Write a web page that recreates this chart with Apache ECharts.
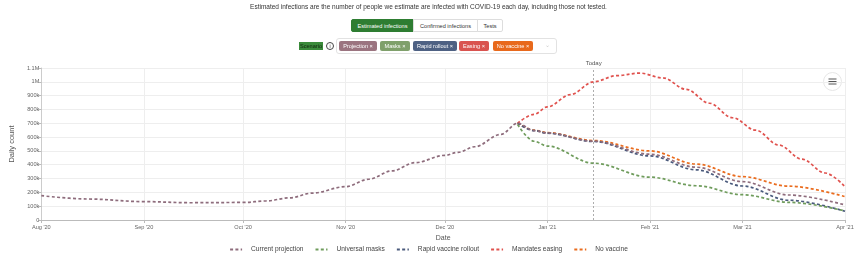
<!DOCTYPE html>
<html>
<head>
<meta charset="utf-8">
<script src="https://cdn.jsdelivr.net/npm/echarts@6/dist/echarts.min.js"></script>
<style>
  html,body{margin:0;padding:0;background:#fff;}
  body{width:857px;height:256px;position:relative;overflow:hidden;font-family:"Liberation Sans",Arial,sans-serif;}
  #chart{position:absolute;left:0;top:0;width:857px;height:256px;}
  .abs{position:absolute;white-space:nowrap;}
  #title{left:0;top:3px;width:857px;text-align:center;font-size:6.5px;color:#333;}
  .btn{top:19px;height:13px;line-height:13px;font-size:5.6px;text-align:center;box-sizing:border-box;border:1px solid #ddd;color:#333;background:#fff;}
  .tag{top:41px;height:10px;line-height:10px;font-size:5.6px;color:#fff;text-align:center;border-radius:2px;}
</style>
</head>
<body>
<div id="chart"></div>
<div id="title" class="abs">Estimated infections are the number of people we estimate are infected with COVID-19 each day, including those not tested.</div>
<div class="abs btn" style="left:351px;width:63px;background:#2e7d32;border-color:#2e7d32;color:#fff;border-radius:2px 0 0 2px;">Estimated infections</div>
<div class="abs btn" style="left:413px;width:65px;">Confirmed infections</div>
<div class="abs btn" style="left:477px;width:26px;border-radius:0 2px 2px 0;">Tests</div>
<div class="abs" style="left:299px;top:42px;width:24px;height:8px;line-height:8px;font-size:5.6px;background:#3a8a3a;color:#10240f;text-align:center;overflow:hidden;">Scenario</div>
<div class="abs" style="left:326px;top:42px;width:6px;height:6px;line-height:6px;border:0.8px solid #444;border-radius:50%;font-size:5px;text-align:center;color:#333;">i</div>
<div class="abs" style="left:336px;top:38px;width:221px;height:16px;box-sizing:border-box;border:1px solid #e2e2e2;border-radius:3px;"></div>
<div class="abs tag" style="left:339px;width:38px;background:#9b7480;">Projection ×</div>
<div class="abs tag" style="left:380px;width:30px;background:#7fa06b;">Masks ×</div>
<div class="abs tag" style="left:413px;width:44px;background:#4e6183;">Rapid rollout ×</div>
<div class="abs tag" style="left:459px;width:30px;background:#d9534f;">Easing ×</div>
<div class="abs tag" style="left:493px;width:40px;background:#e8691c;">No vaccine ×</div>
<div class="abs" style="left:545px;top:41px;font-size:6px;color:#ccc;">⌄</div>
<script>
// ---- data ----
const seriesNames = ['Current projection', 'Universal masks', 'Rapid vaccine rollout', 'Mandates easing', 'No vaccine'];
const seriesColors = ['#8e6c7c', '#6f9c5c', '#4a5a7c', '#e0524e', '#ea6c1e'];

const currentDates = ['2020-08-01','2020-08-15','2020-09-01','2020-09-15','2020-10-01','2020-10-08','2020-10-15','2020-10-22','2020-11-01','2020-11-08','2020-11-15','2020-11-22','2020-12-01','2020-12-05','2020-12-10','2020-12-18','2020-12-23','2020-12-28','2021-01-01','2021-01-15','2021-02-01','2021-02-15','2021-03-01','2021-03-15','2021-04-01'];
const currentValues = [176000,152000,133000,125000,127000,138000,160000,195000,241000,295000,355000,415000,468000,490000,530000,620000,700000,647000,630000,570000,476000,382000,278000,181000,109000];

const masksDates = ['2020-12-23','2020-12-28','2021-01-01','2021-01-15','2021-02-01','2021-02-15','2021-03-01','2021-03-15','2021-04-01'];
const masksValues = [690000,570000,535000,411000,310000,248000,183000,128000,66000];

const rapidDates = ['2020-12-23','2020-12-28','2021-01-01','2021-01-15','2021-02-01','2021-02-15','2021-03-01','2021-03-15','2021-04-01'];
const rapidValues = [700000,647000,628000,568000,464000,363000,246000,143000,63000];

const easingDates = ['2020-12-23','2020-12-28','2021-01-01','2021-01-08','2021-01-15','2021-01-22','2021-01-29','2021-02-05','2021-02-12','2021-02-19','2021-02-26','2021-03-05','2021-03-12','2021-03-19','2021-03-26','2021-04-01'];
const easingValues = [700000,765000,818000,908000,1000000,1045000,1063000,1028000,945000,845000,740000,650000,542000,440000,340000,241000];

const noVaccineDates = ['2020-12-23','2020-12-28','2021-01-01','2021-01-15','2021-02-01','2021-02-15','2021-03-01','2021-03-15','2021-04-01'];
const noVaccineValues = [700000,650000,632000,575000,500000,405000,314000,245000,169000];

const todayDate = '2021-01-15';
const monthNames = ['Jan','Feb','Mar','Apr','May','Jun','Jul','Aug','Sep','Oct','Nov','Dec'];

function zip(d, v){ return d.map((x,i)=>[x, v[i]]); }
const allData = [
  zip(currentDates, currentValues),
  zip(masksDates, masksValues),
  zip(rapidDates, rapidValues),
  zip(easingDates, easingValues),
  zip(noVaccineDates, noVaccineValues)
];

const FONT = '"Liberation Sans", Arial, sans-serif';
const chart = echarts.init(document.getElementById('chart'), null, {renderer:'canvas'});

const series = seriesNames.map((name, i) => ({
  name: name,
  type: 'line',
  data: allData[i],
  smooth: 0.35,
  smoothMonotone: 'x',
  symbol: 'none',
  color: seriesColors[i],
  itemStyle: { color: seriesColors[i] },
  lineStyle: { color: seriesColors[i], width: 1.7, type: [3, 2.3] },
  z: 10 - i
}));
series[0].markLine = {
  symbol: 'none',
  silent: true,
  lineStyle: { type: [2, 2], color: '#999', width: 0.8 },
  label: { formatter: 'Today', position: 'end', fontSize: 6, color: '#555', fontFamily: FONT, distance: 2 },
  data: [{ xAxis: todayDate }]
};

chart.setOption({
  animation: false,
  textStyle: { fontFamily: FONT },
  grid: { left: 31, right: 12, top: 68, bottom: 36 },
  xAxis: {
    type: 'time',
    min: '2020-08-01',
    max: '2021-04-01',
    splitNumber: 8,
    name: 'Date',
    nameLocation: 'middle',
    nameGap: 15,
    nameTextStyle: { fontSize: 7, color: '#555', fontFamily: FONT },
    axisLine: { lineStyle: { color: '#bbb', width: 1 } },
    axisTick: { show: true, length: 3, lineStyle: { color: '#bbb' } },
    axisLabel: {
      fontSize: 5.6, color: '#666', margin: 4, fontFamily: FONT,
      hideOverlap: false,
      formatter: function (val) {
        const d = new Date(val);
        return monthNames[d.getMonth()] + " '" + String(d.getFullYear()).slice(2);
      }
    },
    splitLine: { show: true, lineStyle: { color: '#eeeeee', width: 1 } },
    minorTick: { show: false }
  },
  yAxis: {
    type: 'value',
    min: 0,
    max: 1100000,
    interval: 100000,
    name: 'Daily count',
    nameLocation: 'middle',
    nameGap: 23,
    nameRotate: 90,
    nameTextStyle: { fontSize: 7.5, color: '#555', fontFamily: FONT },
    axisLine: { show: true, lineStyle: { color: '#ccc' } },
    axisTick: { show: true, length: 3, lineStyle: { color: '#bbb' } },
    axisLabel: {
      fontSize: 5.6, color: '#666', margin: 2, fontFamily: FONT,
      formatter: function (v) {
        if (v === 0) return '0';
        if (v >= 1000000) return (v / 1000000) + 'M';
        return (v / 1000) + 'k';
      }
    },
    splitLine: { show: true, lineStyle: { color: '#eeeeee', width: 1 } }
  },
  legend: {
    top: 241,
    left: 'center',
    itemWidth: 12,
    itemHeight: 6,
    itemGap: 11,
    itemStyle: { opacity: 0 },
    textStyle: { fontSize: 6.6, color: '#444', fontFamily: FONT, padding: [0, 0, 0, 4] },
    data: seriesNames
  },
  graphic: [{
    type: 'group',
    left: 823, top: 72,
    children: [
      { type: 'circle', shape: { cx: 9, cy: 9, r: 9 }, style: { fill: '#fff', stroke: '#e6e6e6', lineWidth: 1 } },
      { type: 'rect', shape: { x: 5, y: 6, width: 8, height: 1 }, style: { fill: '#555' } },
      { type: 'rect', shape: { x: 5, y: 8.5, width: 8, height: 1 }, style: { fill: '#555' } },
      { type: 'rect', shape: { x: 5, y: 11, width: 8, height: 1 }, style: { fill: '#555' } }
    ]
  }],
  series: series
});
</script>
</body>
</html>
